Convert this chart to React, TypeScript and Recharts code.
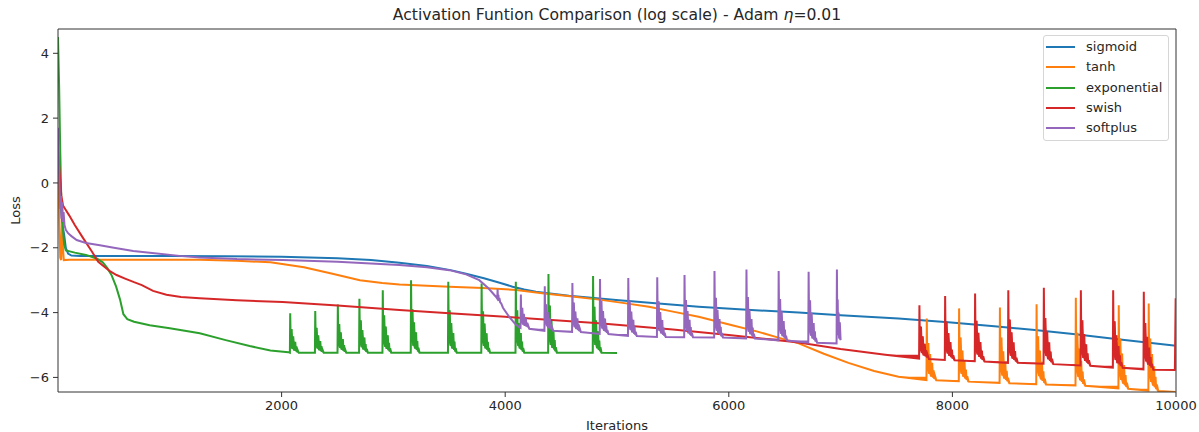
import React from 'react';
import { ComposedChart, Line, Area, XAxis, YAxis, Legend, Label, ReferenceLine } from 'recharts';

const xTicks = [2000, 4000, 6000, 8000, 10000];
const yTicks = [-6, -4, -2, 0, 2, 4];
const xDomain: [number, number] = [0, 10000];
const yDomain: [number, number] = [-6.45, 4.75];

const seriesNames = ['sigmoid', 'tanh', 'exponential', 'swish', 'softplus'];
const seriesColors = ['#1f77b4', '#ff7f0e', '#2ca02c', '#d62728', '#9467bd'];

const sigmoidPts: [number, number][] = [
  [0, 0.6], [20, -0.5], [40, -1.3], [55, -1.6], [70, -2.0], [90, -2.18], [120, -2.24], [200, -2.25],
  [1000, -2.25], [1500, -2.26], [2000, -2.28], [2500, -2.32], [2800, -2.38], [3054, -2.46], [3300, -2.56],
  [3512, -2.69], [3650, -2.8], [3810, -2.94], [3950, -3.08], [4066, -3.2], [4170, -3.29], [4274, -3.36],
  [4420, -3.42], [4571, -3.48], [5018, -3.62], [5400, -3.73], [5730, -3.82], [6200, -3.92], [6625, -4.0],
  [7000, -4.08], [7518, -4.18], [7964, -4.3], [8400, -4.43], [8738, -4.54], [9100, -4.67], [9500, -4.83],
  [10000, -5.02],
];

const tanhPts: [number, number][] = [
  [0, 0.3], [10, -0.8], [20, -2.3], [28, -2.38], [36, -1.3], [44, -2.0], [52, -2.38], [100, -2.37],
  [500, -2.37], [1000, -2.37], [1268, -2.37], [1600, -2.4], [1900, -2.45], [2200, -2.6], [2455, -2.8],
  [2700, -3.0], [2900, -3.09], [3054, -3.13], [3500, -3.2], [3800, -3.24], [4100, -3.3], [4330, -3.4],
  [4600, -3.5], [4840, -3.6], [5050, -3.7], [5285, -3.82], [5500, -3.97], [5730, -4.13], [6030, -4.39],
  [6250, -4.58], [6420, -4.75], [6625, -4.95], [6850, -5.27], [7070, -5.55], [7300, -5.8], [7518, -5.98],
  [7768, -6.08], [7771, -4.18], [7776, -5.79], [7785, -4.94], [7793, -5.89], [7801, -5.28], [7810, -5.97], [7819, -5.55], [7826, -6.0], [7832, -5.78], [7838, -6.04], [7844, -5.95], [7856, -6.09],
  [8057, -6.12], [8060, -3.87], [8065, -5.78], [8074, -4.77], [8082, -5.89], [8090, -5.17], [8099, -5.98], [8108, -5.49], [8115, -6.03], [8121, -5.76], [8127, -6.07], [8133, -5.96], [8145, -6.13],
  [8422, -6.17], [8425, -3.84], [8430, -5.82], [8439, -4.77], [8447, -5.94], [8455, -5.19], [8464, -6.03], [8473, -5.52], [8480, -6.08], [8486, -5.8], [8492, -6.12], [8498, -6.01], [8510, -6.18],
  [8750, -6.21], [8753, -3.74], [8758, -5.84], [8767, -4.73], [8775, -5.96], [8783, -5.17], [8792, -6.06], [8801, -5.52], [8808, -6.11], [8814, -5.81], [8820, -6.16], [8826, -6.04], [8838, -6.22],
  [9101, -6.25], [9104, -3.54], [9109, -5.84], [9118, -4.62], [9126, -5.98], [9134, -5.11], [9143, -6.09], [9152, -5.49], [9159, -6.14], [9165, -5.82], [9171, -6.2], [9177, -6.06], [9189, -6.26],
  [9485, -6.34], [9488, -3.77], [9493, -5.95], [9502, -4.8], [9510, -6.08], [9518, -5.26], [9527, -6.19], [9536, -5.62], [9543, -6.24], [9549, -5.93], [9555, -6.29], [9561, -6.16], [9573, -6.35],
  [9753, -6.41], [9756, -3.72], [9761, -6.01], [9770, -4.8], [9778, -6.14], [9786, -5.28], [9795, -6.25], [9804, -5.66], [9811, -6.3], [9817, -5.98], [9823, -6.36], [9829, -6.22], [9841, -6.42],
  [10000, -6.45],
];

const exponentialPts: [number, number][] = [
  [0, 4.5], [10, 3.0], [20, 1.0], [30, -0.6], [40, -1.2], [48, -1.6], [55, -1.9], [70, -2.08], [150, -2.15],
  [250, -2.22], [345, -2.33], [400, -2.45], [440, -2.62], [480, -2.85], [520, -3.2], [555, -3.6], [585, -4.05],
  [620, -4.2], [680, -4.28], [820, -4.39], [1000, -4.48], [1268, -4.64], [1500, -4.85], [1714, -5.03],
  [1900, -5.17], [2060, -5.22],
  [2074, -5.24], [2077, -4.02], [2082, -5.06], [2090, -4.51], [2097, -5.12], [2104, -4.73], [2113, -5.17], [2122, -4.9], [2128, -5.19], [2133, -5.04], [2138, -5.22], [2143, -5.15], [2153, -5.24],
  [2298, -5.24], [2301, -3.95], [2306, -5.05], [2314, -4.47], [2321, -5.11], [2328, -4.7], [2337, -5.16], [2346, -4.88], [2352, -5.19], [2357, -5.03], [2362, -5.21], [2367, -5.15], [2377, -5.24],
  [2500, -5.24], [2503, -3.75], [2508, -5.02], [2516, -4.35], [2523, -5.09], [2530, -4.61], [2539, -5.15], [2548, -4.82], [2554, -5.18], [2559, -5.0], [2564, -5.21], [2569, -5.14], [2579, -5.24],
  [2693, -5.24], [2696, -3.57], [2701, -4.99], [2709, -4.24], [2716, -5.07], [2723, -4.54], [2732, -5.14], [2741, -4.77], [2747, -5.17], [2752, -4.97], [2757, -5.21], [2762, -5.12], [2772, -5.24],
  [2902, -5.24], [2905, -3.31], [2910, -4.95], [2918, -4.08], [2925, -5.05], [2932, -4.43], [2941, -5.12], [2950, -4.7], [2956, -5.16], [2961, -4.93], [2966, -5.2], [2971, -5.1], [2981, -5.24],
  [3155, -5.24], [3158, -3.0], [3163, -4.9], [3171, -3.9], [3178, -5.02], [3185, -4.3], [3194, -5.11], [3203, -4.61], [3209, -5.15], [3214, -4.88], [3219, -5.2], [3224, -5.08], [3234, -5.24],
  [3488, -5.24], [3491, -3.05], [3496, -4.91], [3504, -3.93], [3511, -5.02], [3518, -4.32], [3527, -5.11], [3536, -4.63], [3542, -5.15], [3547, -4.89], [3552, -5.2], [3557, -5.09], [3567, -5.24],
  [3786, -5.24], [3789, -3.1], [3794, -4.92], [3802, -3.96], [3809, -5.03], [3816, -4.34], [3825, -5.11], [3834, -4.64], [3840, -5.15], [3845, -4.9], [3850, -5.2], [3855, -5.09], [3865, -5.24],
  [4092, -5.24], [4095, -3.05], [4100, -4.91], [4108, -3.93], [4115, -5.02], [4122, -4.32], [4131, -5.11], [4140, -4.63], [4146, -5.15], [4151, -4.89], [4156, -5.2], [4161, -5.09], [4171, -5.24],
  [4384, -5.24], [4387, -2.81], [4392, -4.88], [4400, -3.78], [4407, -5.0], [4414, -4.22], [4423, -5.09], [4432, -4.56], [4438, -5.14], [4443, -4.85], [4448, -5.19], [4453, -5.07], [4463, -5.24],
  [4783, -5.24], [4786, -2.87], [4791, -4.88], [4799, -3.82], [4806, -5.0], [4813, -4.24], [4822, -5.1], [4831, -4.58], [4837, -5.15], [4842, -4.86], [4847, -5.19], [4852, -5.07], [4862, -5.24],
  [5000, -5.25],
];

const swishPts: [number, number][] = [
  [0, 1.0], [15, 0.3], [30, -0.4], [45, -0.7], [60, -0.78], [100, -1.0], [150, -1.3], [226, -1.71], [300, -2.1],
  [360, -2.43], [420, -2.6], [464, -2.72], [524, -2.84], [600, -2.95], [680, -3.06], [750, -3.15], [850, -3.33],
  [970, -3.45], [1100, -3.52], [1268, -3.56], [1600, -3.62], [2010, -3.67], [2500, -3.78], [3054, -3.92],
  [3500, -4.02], [4000, -4.13], [4840, -4.33], [5500, -4.52], [6000, -4.69], [6625, -4.92], [7000, -5.12],
  [7400, -5.3], [7702, -5.42],
  [7705, -3.77], [7710, -5.17], [7719, -4.43], [7727, -5.25], [7735, -4.73], [7744, -5.32], [7753, -4.96], [7760, -5.35], [7766, -5.16], [7772, -5.39], [7778, -5.3], [7790, -5.43],
  [7932, -5.46], [7935, -3.49], [7940, -5.16], [7949, -4.28], [7957, -5.26], [7965, -4.63], [7974, -5.34], [7983, -4.91], [7990, -5.38], [7996, -5.14], [8002, -5.42], [8008, -5.32], [8020, -5.47],
  [8200, -5.5], [8203, -3.41], [8208, -5.19], [8217, -4.25], [8225, -5.29], [8233, -4.62], [8242, -5.37], [8251, -4.91], [8258, -5.42], [8264, -5.17], [8270, -5.46], [8276, -5.35], [8288, -5.51],
  [8497, -5.55], [8500, -3.31], [8505, -5.21], [8514, -4.21], [8522, -5.33], [8530, -4.61], [8539, -5.42], [8548, -4.92], [8555, -5.46], [8561, -5.19], [8567, -5.51], [8573, -5.39], [8585, -5.55],
  [8815, -5.58], [8818, -3.23], [8823, -5.23], [8832, -4.17], [8840, -5.34], [8848, -4.59], [8857, -5.44], [8866, -4.92], [8873, -5.49], [8879, -5.2], [8885, -5.53], [8891, -5.42], [8903, -5.59],
  [9146, -5.63], [9149, -3.31], [9154, -5.28], [9163, -4.24], [9171, -5.4], [9179, -4.66], [9188, -5.49], [9197, -4.98], [9204, -5.54], [9210, -5.26], [9216, -5.58], [9222, -5.47], [9234, -5.64],
  [9435, -5.7], [9438, -3.31], [9443, -5.34], [9452, -4.27], [9460, -5.46], [9468, -4.7], [9477, -5.56], [9486, -5.03], [9493, -5.6], [9499, -5.32], [9505, -5.65], [9511, -5.53], [9523, -5.7],
  [9709, -5.75], [9712, -3.36], [9717, -5.39], [9726, -4.32], [9734, -5.51], [9742, -4.75], [9751, -5.61], [9760, -5.08], [9767, -5.65], [9773, -5.37], [9779, -5.7], [9785, -5.58], [9797, -5.76],
  [9990, -5.77], [9997, -3.56], [10000, -4.2],
];

const softplusPts: [number, number][] = [
  [0, 1.7], [5, 1.0], [12, 0.0], [20, -0.8], [26, -0.4], [32, -1.1], [38, -0.6], [44, -1.2], [50, -0.9],
  [58, -1.3], [70, -1.45], [90, -1.55], [120, -1.64], [167, -1.76], [250, -1.85], [375, -1.92], [500, -2.0],
  [673, -2.1], [821, -2.15], [1089, -2.25], [1268, -2.3], [1600, -2.35], [2010, -2.38], [2500, -2.43],
  [3054, -2.53], [3300, -2.6], [3500, -2.69], [3650, -2.82], [3768, -3.0], [3850, -3.25], [3917, -3.51],
  [3929, -3.57], [3932, -3.28], [3936, -3.6], [3939, -3.45], [3943, -3.64], [3948, -3.55], [3955, -3.68], [3965, -3.72],
  [3980, -3.85], [4036, -4.13], [4090, -4.35], [4125, -4.45],
  [4137, -4.47], [4140, -3.44], [4145, -4.32], [4153, -3.85], [4160, -4.37], [4167, -4.04], [4176, -4.41], [4185, -4.18], [4191, -4.43], [4196, -4.31], [4201, -4.45], [4206, -4.4], [4216, -4.5],
  [4351, -4.56], [4354, -3.19], [4359, -4.35], [4367, -3.74], [4374, -4.42], [4381, -3.98], [4390, -4.48], [4399, -4.18], [4405, -4.51], [4410, -4.34], [4415, -4.53], [4420, -4.46], [4430, -4.56],
  [4598, -4.6], [4601, -3.09], [4606, -4.37], [4614, -3.69], [4621, -4.45], [4628, -3.97], [4637, -4.51], [4646, -4.18], [4652, -4.54], [4657, -4.36], [4662, -4.57], [4667, -4.49], [4677, -4.6],
  [4845, -4.66], [4848, -2.96], [4853, -4.4], [4861, -3.64], [4868, -4.49], [4875, -3.95], [4884, -4.56], [4893, -4.18], [4899, -4.59], [4904, -4.39], [4909, -4.63], [4914, -4.54], [4924, -4.66],
  [5098, -4.72], [5101, -2.93], [5106, -4.45], [5114, -3.65], [5121, -4.54], [5128, -3.97], [5137, -4.61], [5146, -4.22], [5152, -4.65], [5157, -4.43], [5162, -4.68], [5167, -4.59], [5177, -4.72],
  [5357, -4.75], [5360, -2.91], [5365, -4.47], [5373, -3.65], [5380, -4.57], [5387, -3.98], [5396, -4.64], [5405, -4.23], [5411, -4.68], [5416, -4.46], [5421, -4.71], [5426, -4.62], [5436, -4.75],
  [5601, -4.76], [5604, -2.84], [5609, -4.47], [5617, -3.61], [5624, -4.57], [5631, -3.95], [5640, -4.64], [5649, -4.22], [5655, -4.68], [5660, -4.45], [5665, -4.72], [5670, -4.63], [5680, -4.76],
  [5869, -4.77], [5872, -2.72], [5877, -4.46], [5885, -3.54], [5892, -4.56], [5899, -3.91], [5908, -4.65], [5917, -4.2], [5923, -4.69], [5928, -4.44], [5933, -4.73], [5938, -4.63], [5948, -4.77],
  [6155, -4.8], [6158, -2.67], [6163, -4.48], [6171, -3.52], [6178, -4.59], [6185, -3.91], [6194, -4.67], [6203, -4.2], [6209, -4.71], [6214, -4.46], [6219, -4.76], [6224, -4.65], [6234, -4.8],
  [6443, -4.86], [6446, -2.72], [6451, -4.54], [6459, -3.58], [6466, -4.65], [6473, -3.96], [6482, -4.73], [6491, -4.26], [6497, -4.77], [6502, -4.52], [6507, -4.82], [6512, -4.71], [6522, -4.86],
  [6711, -4.93], [6714, -2.74], [6719, -4.6], [6727, -3.62], [6734, -4.71], [6741, -4.01], [6750, -4.8], [6759, -4.32], [6765, -4.84], [6770, -4.58], [6775, -4.89], [6780, -4.78], [6790, -4.93],
  [6964, -4.95], [6967, -2.67], [6971, -4.6], [6974, -3.6], [6978, -4.7], [6982, -4.0], [6987, -4.8], [6993, -4.3], [7000, -4.85],
];

const seriesPts = [sigmoidPts, tanhPts, exponentialPts, swishPts, softplusPts];

// Line rows, plus a band that closes the gaps of the fast oscillations (the dense original trace looks filled):
// under each local peak down to its lower neighbour, and over each local trough up to its lower neighbour.
const toRows = (pts: [number, number][]) =>
  pts.map(([x, y], i) => {
    const prev = i > 0 ? pts[i - 1][1] : y;
    const next = i < pts.length - 1 ? pts[i + 1][1] : y;
    let lo = y;
    let hi = y;
    if (y > prev && y > next) lo = Math.min(prev, next);
    else if (y < prev && y < next) hi = Math.min(prev, next);
    return { x, y, band: [lo, hi] };
  });

const FONT = 'DejaVu Sans, sans-serif';
const TXT = '#262626';
const SPINE = '#333333';

const fmtY = (v: number) => (v < 0 ? '\u2212' + Math.abs(v) : String(v));

const LegendBox = () => (
  <div
    style={{
      width: 124,
      height: 103,
      border: '1px solid #d6d6d6',
      borderRadius: 3,
      background: 'rgba(255,255,255,0.8)',
      paddingTop: 1,
      boxSizing: 'content-box',
      fontFamily: FONT,
      fontSize: 13,
      color: TXT,
    }}
  >
    {seriesNames.map((name, i) => (
      <div key={name} style={{ height: 20.3, display: 'flex', alignItems: 'center' }}>
        <div style={{ marginLeft: 2, width: 29, height: 2, background: seriesColors[i] }} />
        <span style={{ marginLeft: 11, lineHeight: '20px' }}>{name}</span>
      </div>
    ))}
  </div>
);

export default function App() {
  const marks: React.ReactNode[] = [];
  seriesNames.forEach((name, i) => {
    const rows = toRows(seriesPts[i]);
    marks.push(
      <Area
        key={name + '-fill'}
        xAxisId="b"
        yAxisId="l"
        data={rows}
        dataKey="band"
        type="linear"
        stroke="none"
        fill={seriesColors[i]}
        fillOpacity={1}
        dot={false}
        activeDot={false}
        legendType="none"
        isAnimationActive={false}
      />
    );
    marks.push(
      <Line
        key={name}
        xAxisId="b"
        yAxisId="l"
        data={rows}
        dataKey="y"
        name={name}
        type="linear"
        stroke={seriesColors[i]}
        strokeWidth={2}
        dot={false}
        activeDot={false}
        isAnimationActive={false}
      />
    );
  });

  return (
    <div style={{ position: 'absolute', left: 0, top: 0, width: 1199, height: 432, background: '#fff' }}>
      <div
        style={{
          position: 'absolute',
          left: 58,
          top: 6.6,
          width: 1118,
          textAlign: 'center',
          fontFamily: FONT,
          fontSize: 15.6,
          lineHeight: '16px',
          color: TXT,
          whiteSpace: 'nowrap',
        }}
      >
        Activation Funtion Comparison (log scale) - Adam <i>η</i>=0.01
      </div>
      <ComposedChart width={1199} height={432} margin={{ top: 29, right: 23, bottom: 0, left: 0 }}>
        <XAxis
          xAxisId="b"
          dataKey="x"
          type="number"
          domain={xDomain}
          allowDataOverflow
          ticks={xTicks}
          height={40}
          tickSize={5}
          tickMargin={4}
          stroke={SPINE}
          tick={{ fontSize: 13, fill: TXT, fontFamily: FONT }}
          tickLine={{ stroke: SPINE }}
          axisLine={{ stroke: SPINE }}
        >
          <Label
            content={({ viewBox }: any) => (
              <text x={viewBox.x + viewBox.width / 2} y={viewBox.y + 37.5} textAnchor="middle" fontSize={13} fill={TXT} fontFamily={FONT}>
                Iterations
              </text>
            )}
          />
        </XAxis>
        <YAxis
          yAxisId="l"
          type="number"
          domain={yDomain}
          allowDataOverflow
          ticks={yTicks}
          width={58}
          tickSize={5}
          tickMargin={4}
          tickFormatter={fmtY}
          tick={{ fontSize: 13, fill: TXT, fontFamily: FONT }}
          tickLine={{ stroke: SPINE }}
          axisLine={{ stroke: SPINE }}
        >
          <Label
            content={({ viewBox }: any) => {
              const cy = viewBox.y + viewBox.height / 2;
              return (
                <text x={20} y={cy} transform={`rotate(-90 20 ${cy})`} textAnchor="middle" fontSize={13} fill={TXT} fontFamily={FONT}>
                  Loss
                </text>
              );
            }}
          />
        </YAxis>
        <ReferenceLine xAxisId="b" yAxisId="l" y={yDomain[1]} stroke={SPINE} strokeWidth={1} ifOverflow="visible" />
        <ReferenceLine xAxisId="b" yAxisId="l" x={xDomain[1]} stroke={SPINE} strokeWidth={1} ifOverflow="visible" />
        {marks}
        <Legend
          layout="vertical"
          align="center"
          verticalAlign="middle"
          wrapperStyle={{ left: 1043, top: 35, width: 126, height: 105 }}
          content={() => <LegendBox />}
        />
      </ComposedChart>
    </div>
  );
}
